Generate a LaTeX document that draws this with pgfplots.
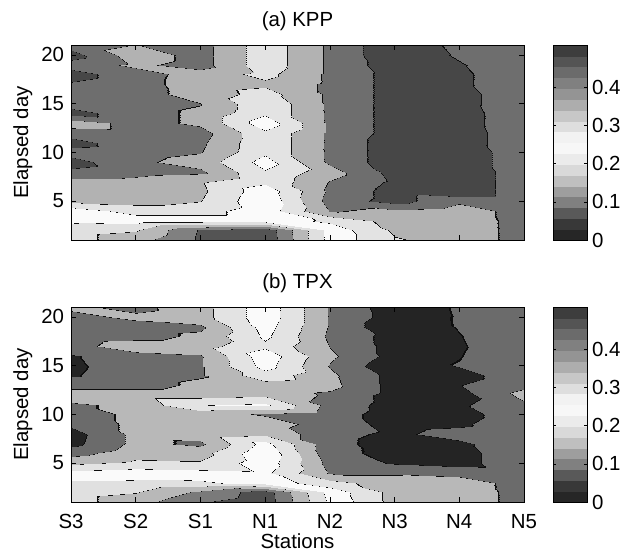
\documentclass[border=0pt]{standalone}
\usepackage{fontspec}
\setmainfont{Liberation Sans}
\usepackage{pgfplots}
\pgfplotsset{compat=1.18}

\pgfplotsset{
  colormap={mapa}{
    gray(0cm)=(0.20);
    gray(49.4cm)=(0.05); gray(50.6cm)=(0.33);
    gray(99.4cm)=(0.05); gray(100.6cm)=(0.50);
    gray(149.4cm)=(0.05); gray(150.6cm)=(0.72);
    gray(199.4cm)=(0.05); gray(200.6cm)=(0.88);
    gray(249.4cm)=(0.05); gray(250.6cm)=(0.98);
    gray(299.4cm)=(0.05); gray(300.6cm)=(0.89);
    gray(349.4cm)=(0.05); gray(350.6cm)=(0.70);
    gray(399.4cm)=(0.05); gray(400.6cm)=(0.43);
    gray(449.4cm)=(0.05); gray(450.6cm)=(0.28);
    gray(510cm)=(0.28)},
  colormap={mapb}{
    gray(0cm)=(0.20);
    gray(49.4cm)=(0.05); gray(50.6cm)=(0.31);
    gray(99.4cm)=(0.05); gray(100.6cm)=(0.48);
    gray(149.4cm)=(0.05); gray(150.6cm)=(0.72);
    gray(199.4cm)=(0.05); gray(200.6cm)=(0.88);
    gray(249.4cm)=(0.05); gray(250.6cm)=(0.98);
    gray(299.4cm)=(0.05); gray(300.6cm)=(0.89);
    gray(349.4cm)=(0.05); gray(350.6cm)=(0.72);
    gray(399.4cm)=(0.05); gray(400.6cm)=(0.42);
    gray(449.4cm)=(0.05); gray(450.6cm)=(0.14);
    gray(510cm)=(0.14)},
  colormap={cbar}{
    gray(0cm)=(0.15); gray(1cm)=(0.22); gray(2cm)=(0.35); gray(3cm)=(0.50);
    gray(4cm)=(0.62); gray(5cm)=(0.75); gray(6cm)=(0.85); gray(7cm)=(0.92);
    gray(8cm)=(0.97); gray(9cm)=(0.95); gray(10cm)=(0.87); gray(11cm)=(0.78);
    gray(12cm)=(0.68); gray(13cm)=(0.58); gray(14cm)=(0.50); gray(15cm)=(0.42);
    gray(16cm)=(0.33); gray(17cm)=(0.24); gray(18cm)=(0.24)},
  panel/.style={
    scale only axis, width=453bp, height=195bp,
    xmin=0, xmax=7, ymin=1, ymax=21,
    xtick={0,1,2,3,4,5,6,7}, ytick={5,10,15,20},
    tick align=inside, major tick length=5bp,
    tick style={black, line width=0.5bp},
    axis line style={line width=0.6bp},
    axis on top, enlargelimits=false,
    point meta min=0, point meta max=0.51,
    colormap access=piecewise constant,
    /pgf/number format/assume math mode=true,
    title style={yshift=1bp},
    ylabel={Elapsed day},
    ylabel style={yshift=-5bp},
  },
  cbpanel/.style={
    scale only axis, width=34bp, height=195bp,
    xmin=0, xmax=1, ymin=0, ymax=0.51,
    xtick=\empty, ytick={0,0.1,0.2,0.3,0.4},
    yticklabel pos=right,
    tick align=inside, major tick length=3bp,
    tick style={black, line width=0.5bp},
    axis line style={line width=0.6bp},
    axis on top, enlargelimits=false,
    point meta min=0, point meta max=0.51,
    colormap name=cbar, colormap access=piecewise constant,
    /pgf/number format/assume math mode=true,
    yticklabel style={/pgf/number format/fixed, xshift=-2bp},
  },
}

\pgfplotstableread{
x y
0 0
1 0
0 0.028333
1 0.028333
0 0.056667
1 0.056667
0 0.085
1 0.085
0 0.113333
1 0.113333
0 0.141667
1 0.141667
0 0.17
1 0.17
0 0.198333
1 0.198333
0 0.226667
1 0.226667
0 0.255
1 0.255
0 0.283333
1 0.283333
0 0.311667
1 0.311667
0 0.34
1 0.34
0 0.368333
1 0.368333
0 0.396667
1 0.396667
0 0.425
1 0.425
0 0.453333
1 0.453333
0 0.481667
1 0.481667
0 0.51
1 0.51
}\cbtable

\begin{document}
\fontsize{20.5}{24}\selectfont
\begin{tikzpicture}
\path[use as bounding box] (0,0) rectangle (628bp,-556bp);

% ---------------- (a) KPP ----------------
\begin{axis}[panel, at={(71bp,-240bp)}, anchor=south west,
  colormap name=mapa, xticklabels=\empty, title={(a) KPP}]
\addplot[surf, shader=interp, mesh/cols=8, point meta=\thisrow{z}] table {
x y z
0 1 0.22
1 1 0.17
2 1 0.09
3 1 0.06
4 1 0.27
5 1 0.345
6 1 0.37
7 1 0.42
0 2 0.22
1 2 0.205
2 2 0.095
3 2 0.065
4 2 0.27
5 2 0.36
6 2 0.37
7 2 0.42
0 3 0.26
1 3 0.27
2 3 0.27
3 3 0.27
4 3 0.31
5 3 0.37
6 3 0.37
7 3 0.42
0 4 0.27
1 4 0.32
2 4 0.32
3 4 0.27
4 4 0.403
5 4 0.39
6 4 0.375
7 4 0.42
0 5 0.36
1 5 0.37
2 5 0.352
3 5 0.26
4 5 0.42
5 5 0.47
6 5 0.41
7 5 0.41
0 6 0.37
1 6 0.37
2 6 0.36
3 6 0.27
4 6 0.41
5 6 0.47
6 6 0.50
7 6 0.41
0 7 0.38
1 7 0.38
2 7 0.355
3 7 0.31
4 7 0.403
5 7 0.46
6 7 0.50
7 7 0.41
0 8 0.44
1 8 0.42
2 8 0.41
3 8 0.305
4 8 0.38
5 8 0.47
6 8 0.50
7 8 0.41
0 9 0.47
1 9 0.41
2 9 0.38
3 9 0.28
4 9 0.41
5 9 0.48
6 9 0.49
7 9 0.41
0 10 0.43
1 10 0.42
2 10 0.403
3 10 0.31
4 10 0.41
5 10 0.48
6 10 0.49
7 10 0.41
0 11 0.47
1 11 0.42
2 11 0.41
3 11 0.31
4 11 0.41
5 11 0.48
6 11 0.48
7 11 0.41
0 12 0.43
1 12 0.42
2 12 0.42
3 12 0.31
4 12 0.41
5 12 0.47
6 12 0.48
7 12 0.41
0 13 0.37
1 13 0.42
2 13 0.39
3 13 0.27
4 13 0.41
5 13 0.47
6 13 0.475
7 13 0.41
0 14 0.47
1 14 0.42
2 14 0.39
3 14 0.31
4 14 0.41
5 14 0.47
6 14 0.475
7 14 0.41
0 15 0.43
1 15 0.42
2 15 0.402
3 15 0.31
4 15 0.41
5 15 0.47
6 15 0.47
7 15 0.41
0 16 0.43
1 16 0.42
2 16 0.38
3 16 0.33
4 16 0.41
5 16 0.47
6 16 0.47
7 16 0.41
0 17 0.445
1 17 0.42
2 17 0.375
3 17 0.36
4 17 0.41
5 17 0.47
6 17 0.461
7 17 0.41
0 18 0.47
1 18 0.42
2 18 0.38
3 18 0.335
4 18 0.41
5 18 0.47
6 18 0.461
7 18 0.41
0 19 0.43
1 19 0.39
2 19 0.42
3 19 0.32
4 19 0.41
5 19 0.48
6 19 0.455
7 19 0.41
0 20 0.47
1 20 0.37
2 20 0.42
3 20 0.32
4 20 0.41
5 20 0.49
6 20 0.443
7 20 0.42
0 21 0.43
1 21 0.398
2 21 0.42
3 21 0.32
4 21 0.41
5 21 0.49
6 21 0.435
7 21 0.41
};
\end{axis}
\begin{axis}[cbpanel, at={(553bp,-240bp)}, anchor=south west]
\addplot[surf, shader=flat mean, mesh/cols=2, point meta=\thisrow{y}] table {\cbtable};
\end{axis}

% ---------------- (b) TPX ----------------
\begin{axis}[panel, at={(71bp,-502bp)}, anchor=south west,
  colormap name=mapb, title={(b) TPX}, xlabel={Stations},
  xticklabel style={yshift=-5bp},
  xlabel style={yshift=9bp},
  xticklabels={S3,S2,S1,N1,N2,N3,N4,N5}]
\addplot[surf, shader=interp, mesh/cols=8, point meta=\thisrow{z}] table {
x y z
0 1 0.22
1 1 0.17
2 1 0.104
3 1 0.07
4 1 0.26
5 1 0.37
6 1 0.37
7 1 0.42
0 2 0.22
1 2 0.203
2 2 0.14
3 2 0.075
4 2 0.27
5 2 0.37
6 2 0.37
7 2 0.42
0 3 0.24
1 3 0.24
2 3 0.24
3 3 0.27
4 3 0.33
5 3 0.38
6 3 0.375
7 3 0.42
0 4 0.28
1 4 0.27
2 4 0.28
3 4 0.29
4 4 0.405
5 4 0.405
6 4 0.415
7 4 0.42
0 5 0.36
1 5 0.34
2 5 0.345
3 5 0.27
4 5 0.42
5 5 0.455
6 5 0.47
7 5 0.41
0 6 0.42
1 6 0.37
2 6 0.37
3 6 0.26
4 6 0.435
5 6 0.465
6 6 0.47
7 6 0.41
0 7 0.465
1 7 0.385
2 7 0.41
3 7 0.28
4 7 0.435
5 7 0.47
6 7 0.462
7 7 0.41
0 8 0.47
1 8 0.385
2 8 0.38
3 8 0.36
4 8 0.435
5 8 0.46
6 8 0.43
7 8 0.41
0 9 0.44
1 9 0.385
2 9 0.38
3 9 0.38
4 9 0.42
5 9 0.47
6 9 0.46
7 9 0.41
0 10 0.43
1 10 0.385
2 10 0.38
3 10 0.405
4 10 0.43
5 10 0.47
6 10 0.4735
7 10 0.41
0 11 0.41
1 11 0.385
2 11 0.302
3 11 0.29
4 11 0.42
5 11 0.47
6 11 0.458
7 11 0.41
0 12 0.37
1 12 0.37
2 12 0.37
3 12 0.36
4 12 0.41
5 12 0.47
6 12 0.4706
7 12 0.385
0 13 0.42
1 13 0.42
2 13 0.39
3 13 0.37
4 13 0.385
5 13 0.47
6 13 0.452
7 13 0.41
0 14 0.455
1 14 0.42
2 14 0.405
3 14 0.32
4 14 0.39
5 14 0.47
6 14 0.4735
7 14 0.41
0 15 0.46
1 15 0.42
2 15 0.405
3 15 0.28
4 15 0.404
5 15 0.49
6 15 0.447
7 15 0.41
0 16 0.455
1 16 0.42
2 16 0.405
3 16 0.27
4 16 0.39
5 16 0.47
6 16 0.452
7 16 0.41
0 17 0.42
1 17 0.37
2 17 0.37
3 17 0.31
4 17 0.402
5 17 0.47
6 17 0.4555
7 17 0.41
0 18 0.43
1 18 0.42
2 18 0.39
3 18 0.29
4 18 0.41
5 18 0.47
6 18 0.4521
7 18 0.41
0 19 0.42
1 19 0.42
2 19 0.41
3 19 0.28
4 19 0.405
5 19 0.49
6 19 0.447
7 19 0.41
0 20 0.415
1 20 0.39
2 20 0.37
3 20 0.27
4 20 0.405
5 20 0.475
6 20 0.4463
7 20 0.41
0 21 0.39
1 21 0.415
2 21 0.37
3 21 0.27
4 21 0.405
5 21 0.48
6 21 0.4443
7 21 0.41
};
\end{axis}
\begin{axis}[cbpanel, at={(553bp,-502bp)}, anchor=south west]
\addplot[surf, shader=flat mean, mesh/cols=2, point meta=\thisrow{y}] table {\cbtable};
\end{axis}
\end{tikzpicture}
\end{document}
